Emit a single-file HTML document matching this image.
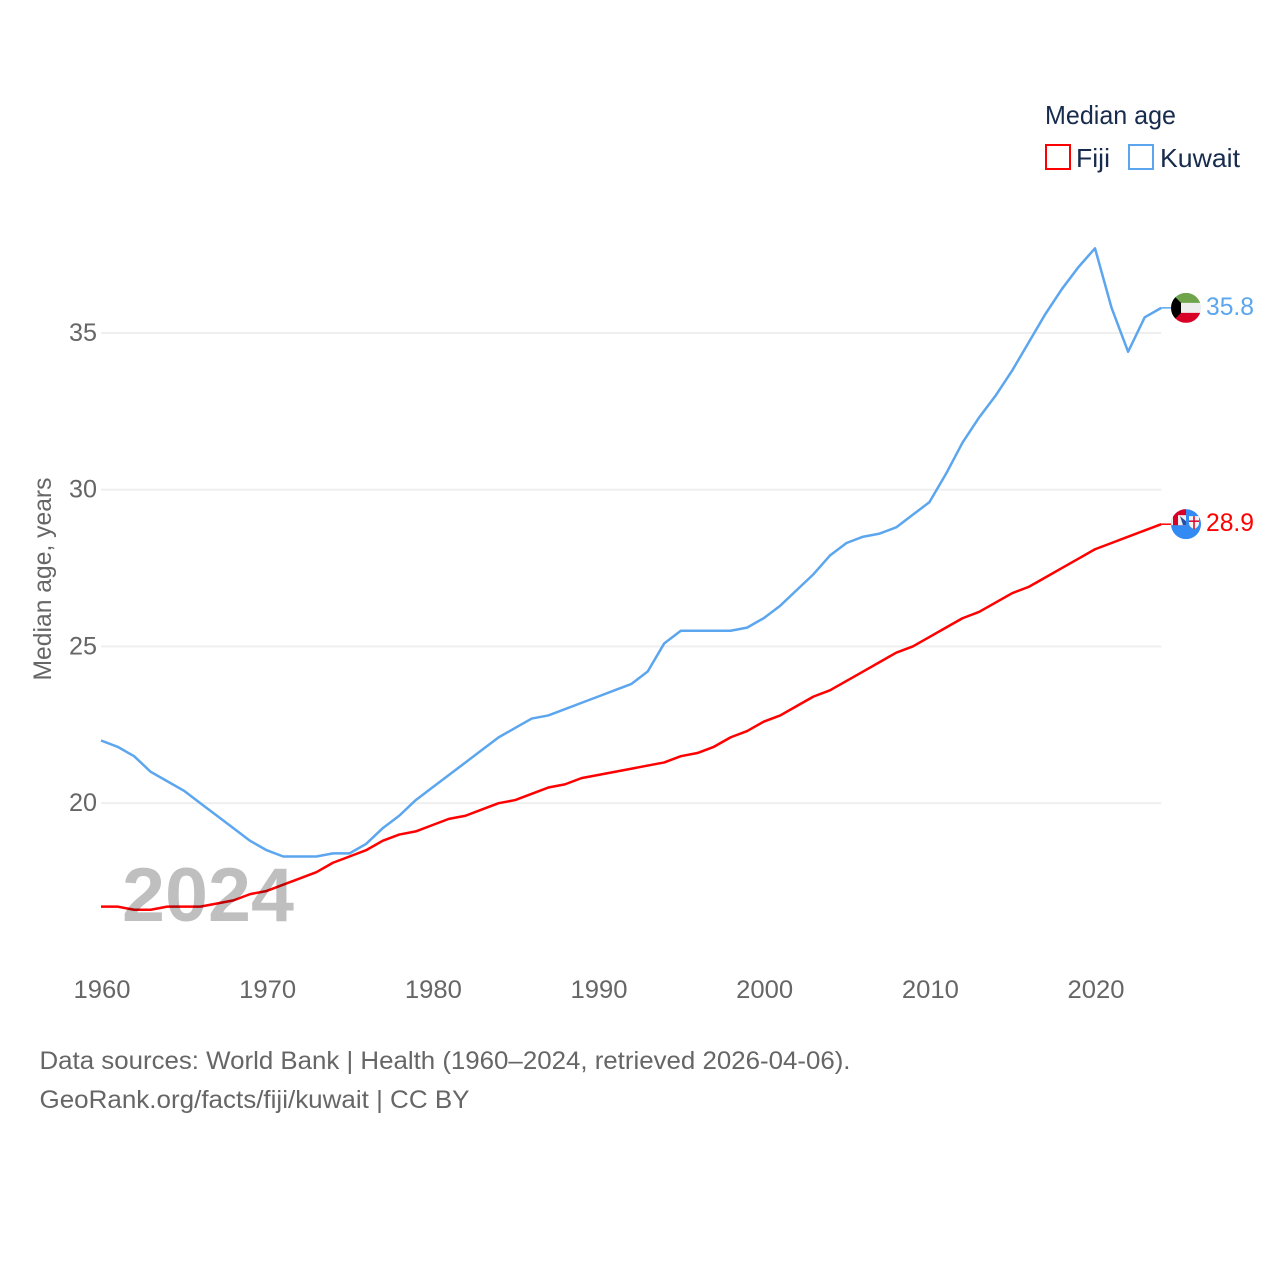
<!DOCTYPE html>
<html lang="en">
<head>
<meta charset="utf-8">
<title>Median age: Fiji and Kuwait</title>
<style>
html,body{margin:0;padding:0;background:#fff;}
svg{display:block;font-family:"Liberation Sans",sans-serif;}
</style>
</head>
<body>
<svg id="chart" xmlns="http://www.w3.org/2000/svg" width="1280" height="1280" viewBox="0 0 1280 1280">
  <defs>
    <clipPath id="clip-kuwait"><circle id="clip-kuwait-circle" cx="1186" cy="308" r="15"></circle></clipPath>
    <clipPath id="clip-fiji"><circle id="clip-fiji-circle" cx="1186" cy="524" r="15"></circle></clipPath>
  </defs>
  <rect x="0" y="0" width="1280" height="1280" fill="#ffffff"></rect>
  <g id="grid"></g>
  <g id="y-ticks"></g>
  <g id="x-ticks"></g>
  <text transform="translate(51,579) rotate(-90)" text-anchor="middle" font-size="25" fill="#666666" textLength="203" lengthAdjust="spacingAndGlyphs">Median age, years</text>
  <g id="series"></g>
  <text x="122" y="921" font-size="76" font-weight="700" fill="#000000" fill-opacity="0.25" textLength="172" lengthAdjust="spacingAndGlyphs">2024</text>
  <g id="end-markers"></g>

  <g>
    <text x="1045" y="124" font-size="26" fill="#172b4d" textLength="131" lengthAdjust="spacingAndGlyphs">Median age</text>
    <g>
      <rect x="1046" y="145" width="24" height="24" fill="#ffffff" stroke="#ff0000" stroke-width="2"></rect>
      <text x="1076" y="167" font-size="26" fill="#172b4d" textLength="34" lengthAdjust="spacingAndGlyphs">Fiji</text>
    </g>
    <g>
      <rect x="1129" y="145" width="24" height="24" fill="#ffffff" stroke="#5ba6ee" stroke-width="2"></rect>
      <text x="1160" y="167" font-size="26" fill="#172b4d" textLength="80" lengthAdjust="spacingAndGlyphs">Kuwait</text>
    </g>
  </g>

  <g>
    <text x="39.5" y="1069" font-size="25" fill="#666666" textLength="811" lengthAdjust="spacingAndGlyphs">Data sources: World Bank | Health (1960–2024, retrieved 2026-04-06).</text>
    <text x="39.5" y="1108" font-size="25" fill="#666666" textLength="430" lengthAdjust="spacingAndGlyphs">GeoRank.org/facts/fiji/kuwait | CC BY</text>
  </g>
</svg>

<script>
const years = [1960,1961,1962,1963,1964,1965,1966,1967,1968,1969,1970,1971,1972,1973,1974,1975,1976,1977,1978,1979,1980,1981,1982,1983,1984,1985,1986,1987,1988,1989,1990,1991,1992,1993,1994,1995,1996,1997,1998,1999,2000,2001,2002,2003,2004,2005,2006,2007,2008,2009,2010,2011,2012,2013,2014,2015,2016,2017,2018,2019,2020,2021,2022,2023,2024];
const fijiValues = [16.7,16.7,16.6,16.6,16.7,16.7,16.7,16.8,16.9,17.1,17.2,17.4,17.6,17.8,18.1,18.3,18.5,18.8,19.0,19.1,19.3,19.5,19.6,19.8,20.0,20.1,20.3,20.5,20.6,20.8,20.9,21.0,21.1,21.2,21.3,21.5,21.6,21.8,22.1,22.3,22.6,22.8,23.1,23.4,23.6,23.9,24.2,24.5,24.8,25.0,25.3,25.6,25.9,26.1,26.4,26.7,26.9,27.2,27.5,27.8,28.1,28.3,28.5,28.7,28.9];
const kuwaitValues = [22.0,21.8,21.5,21.0,20.7,20.4,20.0,19.6,19.2,18.8,18.5,18.3,18.3,18.3,18.4,18.4,18.7,19.2,19.6,20.1,20.5,20.9,21.3,21.7,22.1,22.4,22.7,22.8,23.0,23.2,23.4,23.6,23.8,24.2,25.1,25.5,25.5,25.5,25.5,25.6,25.9,26.3,26.8,27.3,27.9,28.3,28.5,28.6,28.8,29.2,29.6,30.5,31.5,32.3,33.0,33.8,34.7,35.6,36.4,37.1,37.7,35.8,34.4,35.5,35.8];
const xTickLabels = [1960,1970,1980,1990,2000,2010,2020];
const yTickLabels = [20,25,30,35];

const NS = 'http://www.w3.org/2000/svg';
function xScale(year) { return 101 + (year - 1960) * (1095 - 101) / 60; }
function yScale(value) { return 803.2 - (value - 20) * 31.35; }

function make(tag, parent, attrs, text) {
  const el = document.createElementNS(NS, tag);
  for (const k in attrs) el.setAttribute(k, attrs[k]);
  if (text !== undefined) el.textContent = text;
  parent.appendChild(el);
  return el;
}

const gridGroup = document.getElementById('grid');
const yTickGroup = document.getElementById('y-ticks');
const xTickGroup = document.getElementById('x-ticks');
const seriesGroup = document.getElementById('series');
const markerGroup = document.getElementById('end-markers');

yTickLabels.forEach(function (t) {
  const line = make('line', gridGroup, {x1: xScale(1960), x2: xScale(2024), y1: yScale(t), y2: yScale(t), stroke: '#eeeeee', 'stroke-width': 1.8});
  
  
  const label = make('text', yTickGroup, {x: 97, y: yScale(t) + 8, 'text-anchor': 'end', 'font-size': 25, fill: '#666666', textLength: 28, lengthAdjust: 'spacingAndGlyphs'}, String(t));
  
  
});

xTickLabels.forEach(function (t) {
  const label = make('text', xTickGroup, {x: xScale(t) + 1, y: 998, 'text-anchor': 'middle', 'font-size': 25, fill: '#666666', textLength: 57, lengthAdjust: 'spacingAndGlyphs'}, String(t));
  
  
});

function pathFor(values) {
  return values.map(function (v, i) {
    return (i ? 'L' : 'M') + xScale(years[i]).toFixed(2) + ' ' + yScale(v).toFixed(2);
  }).join(' ');
}

const kuwaitLine = make('path', seriesGroup, {d: pathFor(kuwaitValues), fill: 'none', stroke: '#5ba6ee', 'stroke-width': 2.5, 'stroke-linejoin': 'round'});



const fijiLine = make('path', seriesGroup, {d: pathFor(fijiValues), fill: 'none', stroke: '#ff0000', 'stroke-width': 2.5, 'stroke-linejoin': 'round'});



const lastYear = years[years.length - 1];
const lastKuwait = kuwaitValues[kuwaitValues.length - 1];
const lastFiji = fijiValues[fijiValues.length - 1];
const endX = xScale(lastYear);
const flagX = 1186;

/* Kuwait connector, flag and value */
const ky = yScale(lastKuwait);
document.getElementById('clip-kuwait-circle').setAttribute('cy', ky);
const kuwaitConnector = make('line', markerGroup, {x1: endX, x2: flagX - 15, y1: ky, y2: ky, stroke: '#5ba6ee', 'stroke-width': 1.5});


const kuwaitFlag = make('g', markerGroup, {'clip-path': 'url(#clip-kuwait)'});


make('rect', kuwaitFlag, {x: flagX - 15, y: ky - 15, width: 30, height: 10.5, fill: '#6fa44a'});
make('rect', kuwaitFlag, {x: flagX - 15, y: ky - 5, width: 30, height: 10.5, fill: '#eeeeee'});
make('rect', kuwaitFlag, {x: flagX - 15, y: ky + 5, width: 30, height: 10, fill: '#d80027'});
make('polygon', kuwaitFlag, {points: [flagX - 15, ky - 15, flagX - 5, ky - 5, flagX - 5, ky + 5, flagX - 15, ky + 15].join(' '), fill: '#000000'});
const kuwaitValue = make('text', markerGroup, {x: 1206, y: ky + 7, 'font-size': 25, fill: '#5ba6ee', textLength: 48, lengthAdjust: 'spacingAndGlyphs'}, lastKuwait.toFixed(1));



/* Fiji connector, flag and value */
const fy = yScale(lastFiji);
document.getElementById('clip-fiji-circle').setAttribute('cy', fy);
const fijiConnector = make('line', markerGroup, {x1: endX, x2: flagX - 15, y1: fy, y2: fy, stroke: '#ff0000', 'stroke-width': 1.5});


const fijiFlag = make('g', markerGroup, {'clip-path': 'url(#clip-fiji)'});


make('rect', fijiFlag, {x: flagX - 15, y: fy - 15, width: 30, height: 30, fill: '#338af3'});
make('rect', fijiFlag, {x: flagX - 15, y: fy - 15, width: 15, height: 16, fill: '#d80027'});
make('rect', fijiFlag, {x: flagX - 15, y: fy - 15, width: 2, height: 16, fill: '#eeeeee'});
make('rect', fijiFlag, {x: flagX - 8, y: fy - 9, width: 8, height: 10, fill: '#f0f0f0'});
make('polygon', fijiFlag, {points: [flagX - 6, fy - 8, flagX, fy - 3, flagX, fy + 1, flagX - 3, fy + 1].join(' '), fill: '#2a4fa0'});
make('path', fijiFlag, {d: 'M' + (flagX + 3) + ' ' + (fy - 8) + 'h10v7q0 4 -5 6q-5 -2 -5 -6z', fill: '#f4f4f4'});
make('rect', fijiFlag, {x: flagX + 7.25, y: fy - 8, width: 1.5, height: 13, fill: '#d80027'});
make('rect', fijiFlag, {x: flagX + 3, y: fy - 3.75, width: 10, height: 1.5, fill: '#d80027'});
const fijiValue = make('text', markerGroup, {x: 1206, y: fy + 7, 'font-size': 25, fill: '#ff0000', textLength: 48, lengthAdjust: 'spacingAndGlyphs'}, lastFiji.toFixed(1));


</script>
</body>
</html>
